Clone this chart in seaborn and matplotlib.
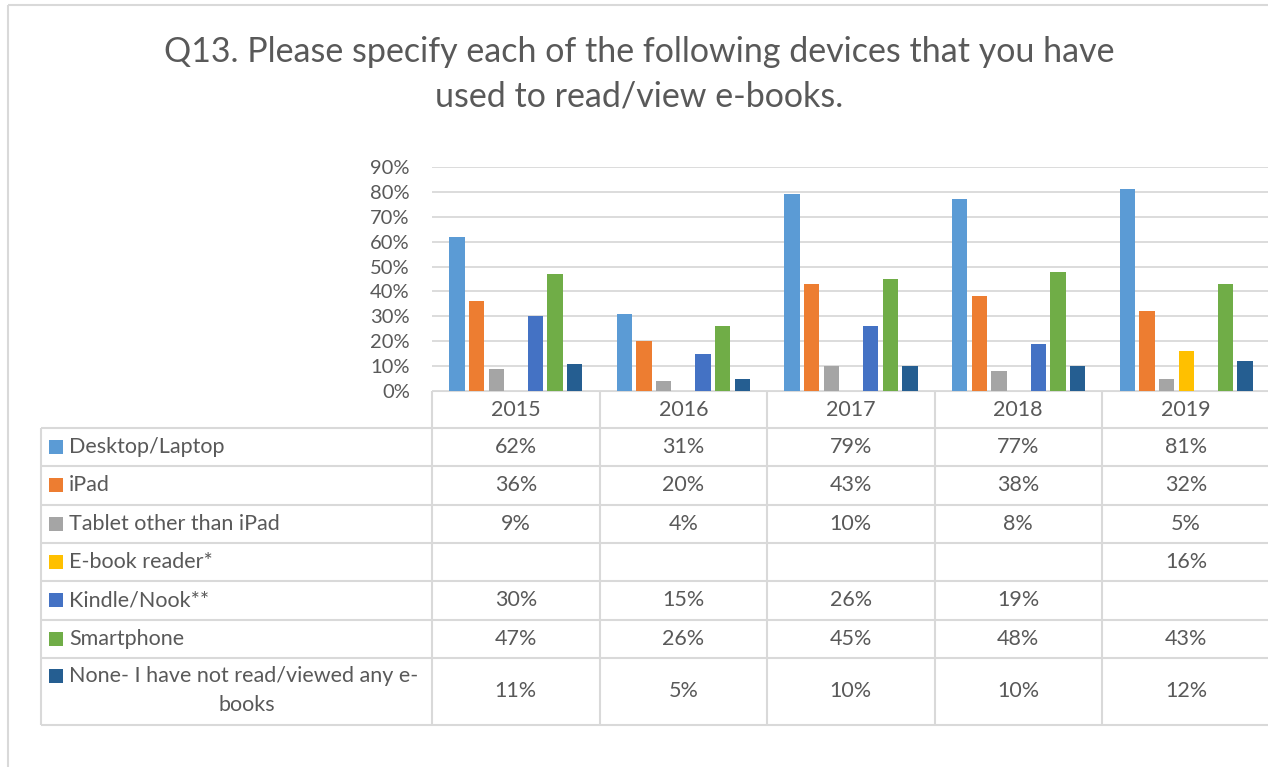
import numpy as np
import pandas as pd
import seaborn as sns
import matplotlib.pyplot as plt
from matplotlib.patches import Rectangle

years = ['2015', '2016', '2017', '2018', '2019']
devices = ['Desktop/Laptop', 'iPad', 'Tablet other than iPad', 'E-book reader*',
           'Kindle/Nook**', 'Smartphone', 'None- I have not read/viewed any e-\nbooks']
desktop = [0.62, 0.31, 0.79, 0.77, 0.81]
ipad = [0.36, 0.20, 0.43, 0.38, 0.32]
tablet = [0.09, 0.04, 0.10, 0.08, 0.05]
ereader = [np.nan, np.nan, np.nan, np.nan, 0.16]
kindle = [0.30, 0.15, 0.26, 0.19, np.nan]
smartphone = [0.47, 0.26, 0.45, 0.48, 0.43]
none_ = [0.11, 0.05, 0.10, 0.10, 0.12]
colors = ['#5B9BD5', '#ED7D31', '#A5A5A5', '#FFC000', '#4472C4', '#70AD47', '#255E91']

series = [desktop, ipad, tablet, ereader, kindle, smartphone, none_]
rows = []
for dev, vals in zip(devices, series):
    for y, v in zip(years, vals):
        rows.append({'year': y, 'device': dev, 'value': v})
df = pd.DataFrame(rows)

W, H = 1268, 767
TXT = '#595959'
GRID = '#D9D9D9'
FS = 15.5
plt.rcParams['font.family'] = ['Lato', 'DejaVu Sans']

fig = plt.figure(figsize=(W / 100, H / 100), dpi=100)

def px(x0, y0, x1, y1):
    return [x0 / W, 1 - y1 / H, (x1 - x0) / W, (y1 - y0) / H]

ax = fig.add_axes(px(432, 167, 1270, 391))
sns.barplot(data=df, x='year', y='value', hue='device', hue_order=devices,
            palette=colors, width=0.82, gap=0.22, ax=ax, legend=False,
            saturation=1, errorbar=None)
ax.set_ylim(0, 0.9)
ax.set_xlim(-0.5, 4.5)
ax.set_yticks(np.arange(0, 0.91, 0.1))
ax.set_yticklabels([f'{int(round(t * 100))}%' for t in np.arange(0, 0.91, 0.1)])
ax.tick_params(axis='y', length=0, pad=16, labelsize=14.5, labelcolor=TXT)
ax.set_xticks([])
ax.set_xlabel('')
ax.set_ylabel('')
ax.grid(axis='y', color=GRID, lw=1.3)
ax.set_axisbelow(True)
for s in ax.spines.values():
    s.set_visible(False)

# data table underneath
tab = fig.add_axes([0, 0, 1, 1], zorder=-1)
tab.set_xlim(0, W)
tab.set_ylim(H, 0)
tab.axis('off')
tab.add_patch(Rectangle((8, 5), W + 10, H + 10, fill=False, ec=GRID, lw=1.5))

col_x = [432, 599.5, 767, 934.5, 1102, 1270]
row_y = [428, 466, 504.5, 543, 581, 619.5, 658, 724.5]
tab.hlines(391, 432, 1270, color=GRID, lw=1.5)
tab.hlines(row_y, 41, 1270, color=GRID, lw=1.5)
tab.vlines(col_x, 391, 724.5, color=GRID, lw=1.5)
tab.vlines(41, 428, 724.5, color=GRID, lw=1.5)

for i, y in enumerate(years):
    cx = (col_x[i] + col_x[i + 1]) / 2
    tab.text(cx, 409.5, y, ha='center', va='center', fontsize=FS, color=TXT)

for r, (dev, vals, c) in enumerate(zip(devices, series, colors)):
    y0, y1 = row_y[r], row_y[r + 1]
    cy = (y0 + y1) / 2
    if '\n' in dev:
        first, second = dev.split('\n')
        ly = y0 + 18
        tab.add_patch(Rectangle((49, ly - 7), 14, 14, color=c, lw=0))
        tab.text(69, ly, first, ha='left', va='center', fontsize=FS, color=TXT)
        tab.text(247, ly + 29, second, ha='center', va='center', fontsize=FS, color=TXT)
    else:
        tab.add_patch(Rectangle((49, cy - 7), 14, 14, color=c, lw=0))
        tab.text(69, cy, dev, ha='left', va='center', fontsize=FS, color=TXT)
    for i, v in enumerate(vals):
        if np.isnan(v):
            continue
        cx = (col_x[i] + col_x[i + 1]) / 2
        tab.text(cx, cy, f'{int(round(v * 100))}%', ha='center', va='center',
                 fontsize=FS, color=TXT)

fig.text(639 / W, 1 - 74 / H,
         'Q13. Please specify each of the following devices that you have\nused to read/view e-books.',
         ha='center', va='center', fontsize=24.5, color=TXT, linespacing=1.5)

fig.savefig('out.png', dpi=100)
